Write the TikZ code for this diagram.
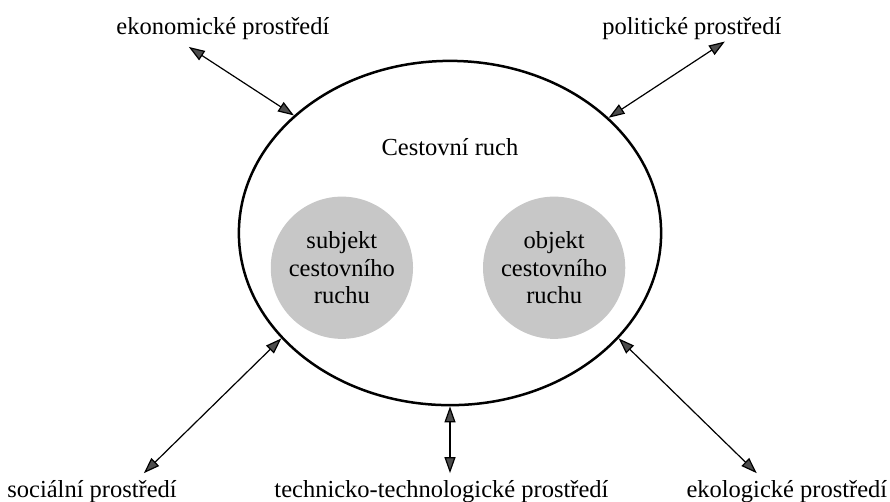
\documentclass[tikz,border=0pt]{standalone}
\usepackage{fontspec}
\setmainfont{Liberation Serif}
\usetikzlibrary{shapes.geometric, arrows.meta, positioning}

\begin{document}
\begin{tikzpicture}[
    oval/.style={
        ellipse, draw=black, line width=1.25pt,
        minimum width=7.42cm, minimum height=6.05cm,
        inner sep=0pt
    },
    core/.style={
        circle, fill=black!22, draw=none,
        minimum size=2.5cm, inner sep=0pt,
        align=center, font=\fontsize{12.25}{13.6}\selectfont
    },
    env/.style={font=\fontsize{12.25}{14}\selectfont},
    arrow/.style={{Triangle[length=8pt,width=5.5pt,fill=black!70]}-{Triangle[length=8pt,width=5.5pt,fill=black!70]}, line width=0.6pt},
]

\useasboundingbox (-7.908,-4.710) rectangle (7.732,4.095);

% Cestovni ruch
\node[oval] (cr) at (0,0) {};
\node[env] (crtitle) at (0,1.51) {Cestovní ruch};

% Subjekt a objekt
\node[core] (subj) at (-1.90,-0.61) {subjekt\\cestovního\\ruchu};
\node[core] (obj)  at (1.83,-0.61)  {objekt\\cestovního\\ruchu};

% Prostredi
\node[env] (eko)  at (-3.99,3.59)  {ekonomické prostředí};
\node[env] (pol)  at (4.25,3.59)   {politické prostředí};
\node[env] (soc)  at (-6.29,-4.54) {sociální prostředí};
\node[env] (tech) at (-0.15,-4.54) {technicko-technologické prostředí};
\node[env] (ekol) at (5.92,-4.54)  {ekologické prostředí};

% Vazby
\draw[arrow] ([xshift=-0.60cm]eko.south) -- (cr.143.5);
\draw[arrow] ([xshift=0.58cm,yshift=2.7pt]pol.south) -- (cr.36.3);
\draw[arrow] ([xshift=0.91cm]soc.north) -- (cr.212.3);
\draw[arrow] ([xshift=0.15cm]tech.north) -- (cr.south);
\draw[arrow] ([xshift=-0.53cm]ekol.north) -- (cr.328.6);

\end{tikzpicture}
\end{document}
